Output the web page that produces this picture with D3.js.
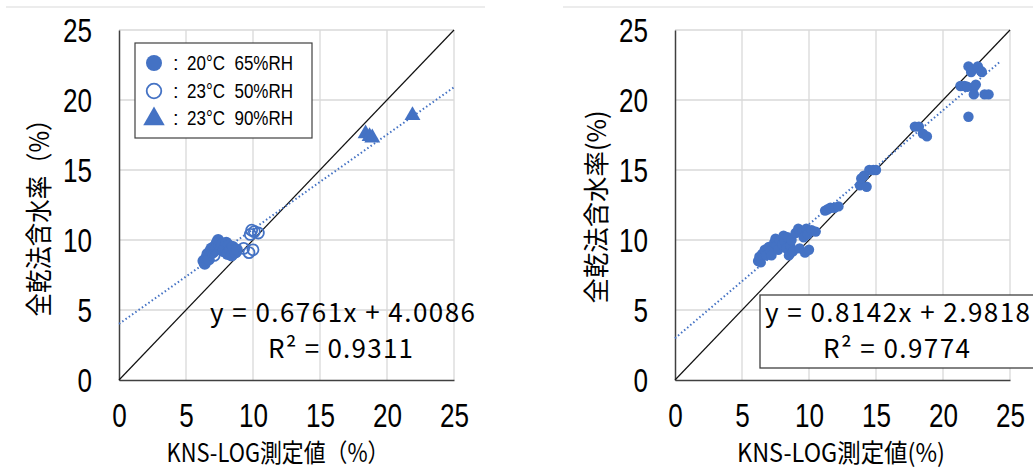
<!DOCTYPE html>
<html>
<head>
<meta charset="utf-8">
<script src="https://cdn.jsdelivr.net/npm/d3@7"></script>
<style>
  body { margin: 0; background: #fff; }
  svg { display: block; }
</style>
</head>
<body>
<svg id="chart" width="1033" height="468"></svg>
<script>
// left panel: three conditions
const left6520 = [[6.3,8.5],[6.4,8.3],[6.5,8.7],[6.6,9.0],[6.7,8.6],[6.8,9.2],[6.9,9.4],[7.0,9.1],
  [7.1,9.5],[7.2,9.3],[7.3,9.8],[7.4,10.0],[7.5,9.6],[7.6,9.4],[7.7,9.7],[7.8,9.2],[7.9,9.5],
  [8.0,9.8],[8.1,9.0],[8.2,9.6],[8.3,9.3],[8.4,8.9],[8.5,9.5],[8.7,9.1],[8.8,9.3]];
const left5023 = [[7.1,8.9],[9.3,9.4],[9.7,9.1],[10.0,9.3],[9.8,10.4],[9.9,10.7],[10.4,10.5],[10.1,10.6]];
const left9023 = [[18.4,17.6],[18.7,17.4],[18.9,17.3],[21.9,18.9]];
const leftFit = { slope: 0.6761, icept: 4.0086, r2: "0.9311", xEnd: 25 };

// right panel: all data
const rightAll = [[6.2,8.5],[6.3,8.8],[6.4,8.4],[6.5,9.0],[6.7,9.3],[6.8,8.9],[7.0,9.5],[7.1,9.2],
  [7.2,8.9],[7.4,9.8],[7.5,10.1],[7.6,9.6],[7.7,9.3],[7.8,10.0],[8.0,9.7],[8.1,10.3],[8.2,9.9],
  [8.3,9.4],[8.4,10.2],[8.5,8.9],[8.6,9.6],[8.7,10.0],[8.8,9.2],[9.0,10.5],[9.2,10.8],[9.3,9.4],
  [9.5,10.6],[9.6,10.2],[9.7,9.1],[9.8,10.8],[9.9,10.4],[10.0,9.3],[10.2,10.7],[10.5,10.6],
  [11.2,12.1],[11.4,12.2],[11.6,12.3],[11.9,12.3],[12.2,12.4],
  [13.8,13.9],[13.9,14.4],[14.1,14.6],[14.3,13.8],[14.5,15.0],[14.8,15.0],[15.0,15.0],
  [17.9,18.1],[18.2,18.1],[18.5,17.6],[18.8,17.4],
  [21.3,21.0],[21.6,21.0],[21.8,20.95],[21.9,18.8],[21.9,22.4],[22.1,22.0],[22.3,20.9],[22.3,20.4],
  [22.45,21.1],[22.6,22.4],[22.8,22.1],[22.9,22.0],[23.1,20.4],[23.4,20.4]];
const rightFit = { slope: 0.8142, icept: 2.9818, r2: "0.9774", xEnd: 24.2 };

const ticks = [0, 5, 10, 15, 20, 25];
const legendLabels = ["20°C\u00a0\u00a065%RH", "23°C\u00a0\u00a050%RH", "23°C\u00a0\u00a090%RH"];

const blue = "#4472C4";
const numFont = "'Liberation Sans', sans-serif";
const jpFont = "'Noto Sans CJK JP', sans-serif";

const svg = d3.select("#chart");

// narrow digits like the original (condensed look)
function narrowTicks(sel) {
  sel.attr("font-family", numFont).attr("font-size", 33).attr("fill", "#000")
    .attr("lengthAdjust", "spacingAndGlyphs")
    .attr("textLength", function () { return this.textContent.length * 14.5; });
}

function panel(o) {
  const g = svg.append("g");
  const x = d3.scaleLinear().domain([0, 25]).range([o.x0, o.x0 + 335]);
  const y = d3.scaleLinear().domain([0, 25]).range([380, 30]);

  // faint frame line at the top of each chart
  g.append("line").attr("x1", o.topLine[0]).attr("x2", o.topLine[1])
    .attr("y1", 7).attr("y2", 7).attr("stroke", "#d9d9d9");

  // grid
  g.append("g").selectAll("line").data(ticks.slice(1)).join("line")
    .attr("x1", d => x(d)).attr("x2", d => x(d)).attr("y1", y(0)).attr("y2", y(25))
    .attr("stroke", "#d9d9d9").attr("stroke-width", 1.3);
  g.append("g").selectAll("line").data(ticks.slice(1)).join("line")
    .attr("x1", x(0)).attr("x2", x(25)).attr("y1", d => y(d)).attr("y2", d => y(d))
    .attr("stroke", "#d9d9d9").attr("stroke-width", 1.3);

  // axes
  const xAxis = g.append("g").attr("transform", `translate(0,${y(0)})`)
    .call(d3.axisBottom(x).tickValues(ticks).tickSize(0).tickPadding(0));
  xAxis.select(".domain").attr("stroke", "#404040").attr("stroke-width", 1.5);
  xAxis.selectAll("text").call(narrowTicks).attr("y", 24).attr("dy", "0.71em");

  const yAxis = g.append("g").attr("transform", `translate(${x(0)},0)`)
    .call(d3.axisLeft(y).tickValues(ticks).tickSize(0).tickPadding(27));
  yAxis.select(".domain").attr("stroke", "#404040").attr("stroke-width", 1.5);
  yAxis.selectAll("text").call(narrowTicks).attr("dy", "0.36em");

  // 1:1 line
  g.append("line").attr("x1", x(0)).attr("y1", y(0)).attr("x2", x(25)).attr("y2", y(25))
    .attr("stroke", "#111").attr("stroke-width", 1.2);

  // trendline
  const f = o.fit;
  g.append("line").attr("x1", x(0)).attr("y1", y(f.icept))
    .attr("x2", x(f.xEnd)).attr("y2", y(f.slope * f.xEnd + f.icept))
    .attr("stroke", blue).attr("stroke-width", 2).attr("stroke-dasharray", "1.5,2.5");

  return { g, x, y };
}

function circles(p, data, r, open) {
  p.g.append("g").selectAll("circle").data(data).join("circle")
    .attr("cx", d => p.x(d[0])).attr("cy", d => p.y(d[1])).attr("r", r)
    .attr("fill", open ? "#fff" : blue).attr("fill-opacity", open ? 0 : 1)
    .attr("stroke", blue).attr("stroke-width", open ? 1.8 : 0);
}

function triangles(p, data) {
  const sym = d3.symbol().type(d3.symbolTriangle).size(110);
  p.g.append("g").selectAll("path").data(data).join("path")
    .attr("d", sym).attr("transform", d => `translate(${p.x(d[0])},${p.y(d[1])})`)
    .attr("fill", blue);
}

function equation(p, f, x1, w1, x2, w2) {
  p.g.append("text").attr("x", x1).attr("y", 322).attr("font-family", jpFont)
    .attr("font-size", 26).attr("textLength", w1).attr("lengthAdjust", "spacing")
    .text(`y = ${f.slope}x + ${f.icept}`);
  p.g.append("text").attr("x", x2).attr("y", 358).attr("font-family", jpFont)
    .attr("font-size", 26).attr("textLength", w2).attr("lengthAdjust", "spacing")
    .text(`R² = ${f.r2}`);
}

// ---------- left panel ----------
const L = panel({ x0: 119, topLine: [6, 485], fit: leftFit });
circles(L, left6520, 6, false);
circles(L, left5023, 5.5, true);
triangles(L, left9023);
equation(L, leftFit, 210, 265, 268, 145);

// legend
const lg = L.g.append("g");
lg.append("rect").attr("x", 135).attr("y", 43).attr("width", 177).attr("height", 95)
  .attr("fill", "#fff").attr("stroke", "#404040").attr("stroke-width", 1.2);
const ly = [63, 91, 118];
lg.append("circle").attr("cx", 154).attr("cy", ly[0]).attr("r", 8).attr("fill", blue);
lg.append("circle").attr("cx", 154).attr("cy", ly[1]).attr("r", 7.3).attr("fill", "none")
  .attr("stroke", blue).attr("stroke-width", 1.8);
lg.append("path").attr("d", d3.symbol().type(d3.symbolTriangle).size(200))
  .attr("transform", `translate(154,${ly[2] + 1})`).attr("fill", blue);
lg.selectAll("text.lab").data(legendLabels).join("text").attr("class", "lab")
  .attr("x", 187).attr("y", (d, i) => ly[i] + 7).attr("font-family", numFont).attr("font-size", 20)
  .attr("textLength", 106).attr("lengthAdjust", "spacingAndGlyphs").text(d => d);
lg.selectAll("text.col").data(legendLabels).join("text").attr("class", "col")
  .attr("x", 173).attr("y", (d, i) => ly[i] + 7).attr("font-family", numFont).attr("font-size", 20)
  .text(":");

// axis titles
L.g.append("text").attr("transform", "translate(49,212) rotate(-90)").attr("text-anchor", "middle")
  .attr("font-family", jpFont).attr("font-size", 27).attr("textLength", 209)
  .attr("lengthAdjust", "spacingAndGlyphs").text("全乾法含水率（%）");
L.g.append("text").attr("x", 278).attr("y", 462).attr("text-anchor", "middle")
  .attr("font-family", jpFont).attr("font-size", 25).attr("textLength", 223)
  .attr("lengthAdjust", "spacingAndGlyphs").text("KNS-LOG測定値（%）");

// ---------- right panel ----------
const R = panel({ x0: 675, topLine: [563, 1033], fit: rightFit });
circles(R, rightAll, 5.2, false);

R.g.append("rect").attr("x", 760).attr("y", 295).attr("width", 290).attr("height", 73)
  .attr("fill", "#fff").attr("stroke", "#404040").attr("stroke-width", 1.3);
equation(R, rightFit, 765, 265, 823, 147);

R.g.append("text").attr("transform", "translate(606,207) rotate(-90)").attr("text-anchor", "middle")
  .attr("font-family", jpFont).attr("font-size", 26).attr("textLength", 193)
  .attr("lengthAdjust", "spacingAndGlyphs").text("全乾法含水率(%)");
R.g.append("text").attr("x", 841).attr("y", 462).attr("text-anchor", "middle")
  .attr("font-family", jpFont).attr("font-size", 25).attr("textLength", 208)
  .attr("lengthAdjust", "spacingAndGlyphs").text("KNS-LOG測定値(%)");
</script>
</body>
</html>
